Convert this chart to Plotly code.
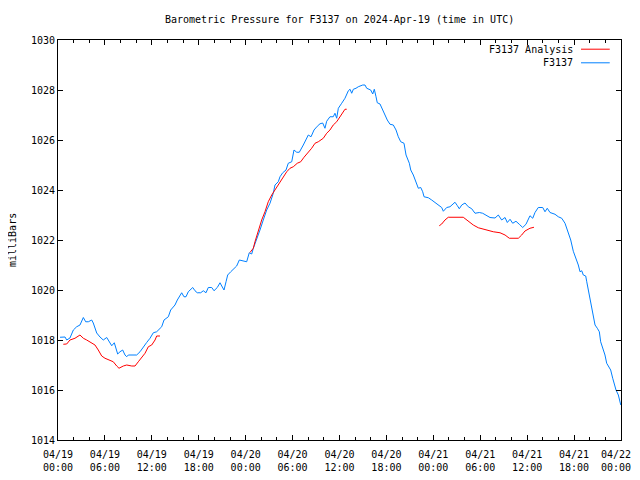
import datetime as dt
import plotly.graph_objects as go

# hours after 2024-04-19 00:00 UTC, pressure in mb
station_hours = [0.26, 0.90, 1.11, 1.53, 1.96, 2.39, 2.81, 3.03, 3.24, 3.54, 3.88, 4.31, 4.51, 4.73, 4.95,
                 5.37, 5.79, 6.23, 6.43, 6.65, 6.87, 7.20, 7.38, 7.63, 7.93, 8.27, 8.57, 8.79, 8.99, 10.06,
                 10.49, 10.91, 11.34, 11.77, 12.19, 12.62, 12.83, 13.26, 13.56, 14.11, 14.41, 14.96, 15.26,
                 15.51, 15.82, 16.11, 16.37, 16.66, 16.88, 17.23, 17.52, 17.81, 18.25, 18.58, 18.93, 19.22,
                 19.66, 19.95, 20.37, 20.72, 20.94, 21.23, 21.49, 21.70, 22.09, 22.42, 22.85, 23.19, 23.70,
                 24.13, 24.46, 24.77, 24.98, 25.41, 25.83, 26.25, 26.69, 27.11, 27.53, 27.75, 28.17, 28.39,
                 28.74, 29.16, 29.45, 29.89, 30.18, 30.53, 30.86, 31.37, 31.81, 32.01, 32.36, 32.74, 33.16,
                 33.51, 33.85, 34.14, 34.36, 34.78, 35.20, 35.42, 35.64, 35.85, 36.28, 36.70, 37.13, 37.35,
                 37.56, 37.77, 38.11, 38.40, 38.97, 39.26, 39.48, 39.99, 40.25, 40.45, 40.67, 40.83, 41.18,
                 41.53, 41.82, 42.11, 42.46, 42.88, 43.23, 43.52, 43.83, 44.25, 44.51, 44.93, 45.11, 45.44,
                 45.78, 46.08, 46.39, 46.64, 46.81, 47.36, 47.79, 48.21, 48.63, 49.07, 49.28, 49.71, 50.13,
                 50.55, 50.77, 51.06, 51.32, 51.63, 52.05, 52.47, 52.91, 53.33, 53.88, 54.31, 54.82, 55.25,
                 55.89, 56.31, 56.74, 57.17, 57.46, 57.81, 58.15, 58.57, 58.99, 59.43, 59.85, 60.36, 60.71,
                 61.00, 61.42, 61.99, 62.28, 62.57, 62.92, 63.56, 63.98, 64.42, 64.84, 65.06, 65.26, 65.57,
                 65.90, 66.34, 66.54, 66.76, 66.98, 67.18, 67.49, 67.62, 67.82, 68.04, 68.25, 68.46, 68.68,
                 68.97, 69.23, 69.40, 69.66, 69.95, 70.17, 70.38, 70.68, 70.94, 71.11, 71.36, 71.66, 71.97]
station_mb = [1018.11, 1018.12, 1018.00, 1018.08, 1018.40, 1018.53, 1018.60, 1018.80, 1018.90, 1018.73,
              1018.73, 1018.80, 1018.68, 1018.48, 1018.28, 1018.12, 1018.00, 1018.10, 1018.00, 1017.93,
              1017.77, 1017.89, 1017.73, 1017.44, 1017.53, 1017.60, 1017.40, 1017.33, 1017.40, 1017.40,
              1017.53, 1017.73, 1017.90, 1018.07, 1018.29, 1018.33, 1018.40, 1018.53, 1018.80, 1018.93,
              1019.20, 1019.40, 1019.60, 1019.73, 1019.89, 1019.73, 1019.73, 1019.93, 1020.00, 1020.10,
              1019.97, 1019.89, 1019.89, 1019.97, 1019.89, 1020.10, 1020.10, 1019.97, 1020.10, 1020.29,
              1020.16, 1020.00, 1020.33, 1020.60, 1020.73, 1020.83, 1020.96, 1021.20, 1021.17, 1021.13,
              1021.49, 1021.44, 1021.67, 1022.00, 1022.40, 1022.80, 1023.20, 1023.47, 1023.87, 1024.20,
              1024.33, 1024.53, 1024.69, 1024.80, 1025.07, 1025.13, 1025.60, 1025.51, 1025.51, 1025.80,
              1026.05, 1026.20, 1026.13, 1026.40, 1026.55, 1026.65, 1026.68, 1026.47, 1026.75, 1026.93,
              1026.93, 1027.07, 1026.87, 1027.27, 1027.47, 1027.67, 1027.97, 1028.03, 1027.87, 1028.03,
              1028.07, 1028.13, 1028.20, 1028.20, 1028.07, 1028.00, 1027.84, 1028.03, 1027.73, 1027.49,
              1027.44, 1027.23, 1027.00, 1026.80, 1026.63, 1026.60, 1026.40, 1026.13, 1025.93, 1025.87,
              1025.40, 1025.07, 1024.80, 1024.60, 1024.33, 1024.07, 1024.10, 1023.93, 1023.73, 1023.69,
              1023.60, 1023.50, 1023.37, 1023.30, 1023.15, 1023.30, 1023.33, 1023.45, 1023.51, 1023.38,
              1023.25, 1023.40, 1023.48, 1023.33, 1023.25, 1023.07, 1023.10, 1023.07, 1022.98, 1022.90,
              1022.88, 1023.00, 1022.80, 1022.90, 1022.70, 1022.83, 1022.67, 1022.75, 1022.63, 1022.50,
              1022.63, 1022.97, 1022.87, 1023.10, 1023.30, 1023.30, 1023.13, 1023.27, 1023.10, 1023.03,
              1022.93, 1022.87, 1022.67, 1022.45, 1022.33, 1022.00, 1021.55, 1021.20, 1021.00, 1020.73,
              1020.77, 1020.60, 1020.56, 1020.33, 1020.00, 1019.60, 1019.20, 1018.87, 1018.60, 1018.47,
              1018.33, 1017.93, 1017.67, 1017.40, 1017.07, 1016.96, 1016.80, 1016.47, 1016.27, 1016.00,
              1015.80, 1015.40]

analysis_hours = [0.68, 1.11, 1.53, 2.17, 2.81, 3.24, 3.67, 4.31, 4.73, 5.15, 5.59, 6.01, 6.65, 7.07, 7.51,
                  7.80, 8.35, 8.79, 9.43, 9.85, 10.27, 10.70, 11.13, 11.55, 11.98, 12.41, 12.62, 13.04,
                  None,
                  24.55, 24.98, 25.19, 25.62, 26.05, 26.47, 26.89, 27.33, 27.75, 28.17, 28.48, 28.81,
                  29.25, 29.67, 30.09, 30.60, 31.04, 31.46, 32.01, 32.44, 32.87, 33.29, 33.93, 34.36,
                  34.78, 35.20, 35.64, 36.06, 36.41, 36.70, 36.92,
                  None,
                  48.76, 49.07, 49.49, 49.91, 51.83, 52.26, 52.69, 53.11, 53.75, 54.39, 55.03, 55.67,
                  56.53, 57.17, 57.72, 58.87, 59.30, 59.72, 60.36, 60.87]
analysis_mb = [1017.83, 1017.84, 1018.00, 1018.07, 1018.20, 1018.07, 1018.00, 1017.87, 1017.80, 1017.60,
               1017.36, 1017.27, 1017.20, 1017.13, 1016.96, 1016.87, 1016.96, 1017.00, 1016.96, 1016.96,
               1017.13, 1017.31, 1017.47, 1017.73, 1017.80, 1018.00, 1018.16, 1018.16,
               None,
               1021.50, 1021.67, 1021.93, 1022.40, 1022.80, 1023.13, 1023.53, 1023.80, 1024.00, 1024.20,
               1024.40, 1024.53, 1024.73, 1024.87, 1024.93, 1025.07, 1025.13, 1025.31, 1025.51, 1025.67,
               1025.87, 1025.93, 1026.07, 1026.27, 1026.40, 1026.60, 1026.73, 1026.93, 1027.13, 1027.23,
               1027.23,
               None,
               1022.57, 1022.64, 1022.80, 1022.91, 1022.91, 1022.80, 1022.69, 1022.60, 1022.49, 1022.43,
               1022.37, 1022.33, 1022.29, 1022.20, 1022.07, 1022.07, 1022.20, 1022.36, 1022.47, 1022.51]

series_names = ["F3137 Analysis", "F3137"]
series_colors = ["#ff0000", "#0080ff"]
tick_hours = [0, 6, 12, 18, 24, 30, 36, 42, 48, 54, 60, 66, 72]

base = dt.datetime(2024, 4, 19, 0, 0)


def to_time(hours):
    return [None if h is None else base + dt.timedelta(hours=h) for h in hours]


def label(t):
    return t.strftime("%m/%d") + "<br>" + t.strftime("%H:%M")


FONT = "DejaVu Sans Mono"
tick_times = to_time(tick_hours)
tick_text = [label(t) for t in tick_times[:-1]] + [""]

fig = go.Figure()
fig.add_trace(go.Scatter(x=to_time(station_hours), y=station_mb, mode="lines",
                         line=dict(color=series_colors[1], width=1), name=series_names[1],
                         connectgaps=False))
fig.add_trace(go.Scatter(x=to_time(analysis_hours), y=analysis_mb, mode="lines",
                         line=dict(color=series_colors[0], width=1), name=series_names[0],
                         connectgaps=False))

axis_common = dict(showline=True, linecolor="black", linewidth=1, mirror="ticks",
                   ticks="inside", ticklen=5, tickcolor="black", showgrid=False, zeroline=False,
                   automargin=False,
                   tickfont=dict(family=FONT, size=10, color="black"))

fig.update_xaxes(range=[tick_times[0], tick_times[-1]], tickmode="array",
                 tickvals=tick_times, ticktext=tick_text, ticklabelstandoff=5,
                 minor=dict(dtick=2 * 3600 * 1000, tick0=base, ticks="inside", ticklen=3,
                            tickcolor="black"),
                 **axis_common)
fig.update_yaxes(range=[1014, 1030], dtick=2, tickformat="d", **axis_common)

annotations = [
    dict(text="Barometric Pressure for F3137 on 2024-Apr-19 (time in UTC)", xref="paper",
         yref="paper", x=0.5, y=1, yshift=21, xanchor="center", yanchor="middle",
         showarrow=False, font=dict(family=FONT, size=10, color="black")),
    dict(text="milliBars", xref="paper", yref="paper", x=0, y=0.5, xshift=-46,
         textangle=-90, showarrow=False, xanchor="center", yanchor="middle",
         font=dict(family=FONT, size=10, color="black")),
    # last time label, nudged left so it is not clipped at the page edge
    dict(text=label(tick_times[-1]), xref="paper", yref="paper", x=1, y=0, xshift=-5,
         yshift=-20.5, xanchor="center", yanchor="middle", showarrow=False,
         font=dict(family=FONT, size=10, color="black")),
]
shapes = []
legend_y = [0.977, 0.943]
for name, color, ly in zip(series_names, series_colors, legend_y):
    annotations.append(dict(text=name, xref="paper", yref="paper", x=0.918, y=ly,
                            xanchor="right", yanchor="middle", showarrow=False,
                            font=dict(family=FONT, size=10, color="black")))
    shapes.append(dict(type="line", xref="paper", yref="paper", x0=0.929, x1=0.980,
                       y0=ly, y1=ly, line=dict(color=color, width=1)))

# the page body adds an 8px margin all round, so the figure is made smaller
fig.update_layout(
    width=632, height=464,
    margin=dict(l=50, r=19, t=32, b=32, autoexpand=False),
    paper_bgcolor="white", plot_bgcolor="white",
    showlegend=False,
    annotations=annotations, shapes=shapes,
)

fig.write_html("out.html")
